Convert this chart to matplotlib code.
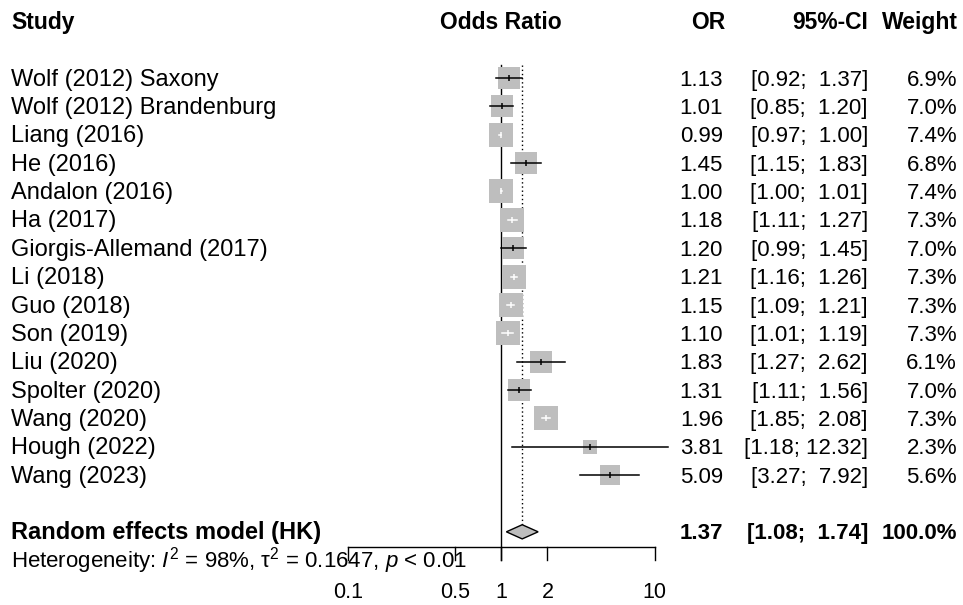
import numpy as np
import matplotlib
matplotlib.use("Agg")
import matplotlib.pyplot as plt
from matplotlib import transforms

plt.rcParams["font.family"] = ["Liberation Sans", "DejaVu Sans"]
plt.rcParams["mathtext.fontset"] = "custom"
plt.rcParams["mathtext.rm"] = "Liberation Sans"
plt.rcParams["mathtext.it"] = "Liberation Sans:italic"

# data
studies = ["Wolf (2012) Saxony", "Wolf (2012) Brandenburg", "Liang (2016)", "He (2016)",
           "Andalon (2016)", "Ha (2017)", "Giorgis-Allemand (2017)", "Li (2018)", "Guo (2018)",
           "Son (2019)", "Liu (2020)", "Spolter (2020)", "Wang (2020)", "Hough (2022)", "Wang (2023)"]
odds = [1.13, 1.01, 0.99, 1.45, 1.00, 1.18, 1.20, 1.21, 1.15, 1.10, 1.83, 1.31, 1.96, 3.81, 5.09]
lower = [0.92, 0.85, 0.97, 1.15, 1.00, 1.11, 0.99, 1.16, 1.09, 1.01, 1.27, 1.11, 1.85, 1.18, 3.27]
upper = [1.37, 1.20, 1.00, 1.83, 1.01, 1.27, 1.45, 1.26, 1.21, 1.19, 2.62, 1.56, 2.08, 12.32, 7.92]
weights = [6.9, 7.0, 7.4, 6.8, 7.4, 7.3, 7.0, 7.3, 7.3, 7.3, 6.1, 7.0, 7.3, 2.3, 5.6]
pooled = (1.37, 1.08, 1.74)
ticks = [0.1, 0.5, 1, 2, 10]
tick_labels = ["0.1", "0.5", "1", "2", "10"]

FS_LAB = 17     # study names
FS_HEAD = 16.5  # column headers
FS_NUM = 16     # numeric columns
FS_TICK = 15.5
gray = "#bebebe"

fig = plt.figure(figsize=(9.63, 6.05), dpi=100)
ax = fig.add_axes([348 / 963, 0, (654.5 - 348) / 963, 1])
ax.set_xscale("log")
ax.set_xlim(0.1, 10)
ax.set_ylim(18.58, -2.75)
ax.axis("off")

rows = np.arange(len(studies))
re_row = 16
het_row = 17
head_row = -2
base = 0.27  # baseline offset so text sits centred on the row

# reference lines
ax.plot([1, 1], [-0.46, 17.0], color="black", lw=1.0, clip_on=False)
ax.plot([pooled[0], pooled[0]], [-0.46, re_row - 0.25], color="black", lw=1.0,
        ls=(0, (1, 2)), clip_on=False)

# study squares + CI
px_per_dec = 306.5 / 2
for i in range(len(studies)):
    side = 8.6 * np.sqrt(weights[i])
    half_dec = side / 2 / px_per_dec
    inside = (np.log10(lower[i]) >= np.log10(odds[i]) - half_dec and
              np.log10(upper[i]) <= np.log10(odds[i]) + half_dec)
    col = "white" if inside else "black"
    ax.scatter([odds[i]], [rows[i]], s=(side * 0.72) ** 2, marker="s", color=gray,
               linewidths=0, zorder=2)
    ax.plot([lower[i], upper[i]], [rows[i], rows[i]], color=col, lw=1.1, zorder=3,
            clip_on=False)
    ax.plot([odds[i]], [rows[i]], marker="|", ms=5, mew=1.1, color=col, zorder=3)

# pooled diamond
ax.fill([pooled[1], pooled[0], pooled[2], pooled[0]],
        [re_row, re_row - 0.25, re_row, re_row + 0.25],
        facecolor=gray, edgecolor="black", lw=1.0, zorder=3)

# x axis
ax.plot([0.1, 10], [16.52, 16.52], color="black", lw=1.0, clip_on=False)
for t, lab in zip(ticks, tick_labels):
    ax.plot([t, t], [16.52, 17.0], color="black", lw=1.0, clip_on=False)
    ax.text(t, 18.35, lab, ha="center", va="baseline", fontsize=FS_TICK)

# text columns
tr = transforms.blended_transform_factory(fig.transFigure, ax.transData)
x_study = 11 / 963
x_or = 723 / 963
x_ci = 868 / 963
x_w = 957 / 963

ax.text(x_study, head_row + base, "Study", transform=tr, fontsize=FS_HEAD, weight="bold")
ax.text(1, head_row + base, "Odds Ratio", ha="center", fontsize=FS_HEAD, weight="bold")
ax.text(725 / 963, head_row + base, "OR", transform=tr, ha="right", fontsize=FS_HEAD, weight="bold")
ax.text(x_ci, head_row + base, "95%-CI", transform=tr, ha="right", fontsize=FS_HEAD, weight="bold")
ax.text(958 / 963, head_row + base, "Weight", transform=tr, ha="right", fontsize=FS_HEAD,
        weight="bold")

for i in range(len(studies)):
    y = rows[i] + base
    ax.text(x_study, y, studies[i], transform=tr, fontsize=FS_LAB)
    ax.text(x_or, y, f"{odds[i]:.2f}", transform=tr, ha="right", fontsize=FS_NUM)
    ci = f"[{lower[i]:.2f}; {upper[i]:5.2f}]"
    ax.text(x_ci, y, ci, transform=tr, ha="right", fontsize=FS_NUM)
    ax.text(x_w, y, f"{weights[i]:.1f}%", transform=tr, ha="right", fontsize=FS_NUM)

y = re_row + base
ax.text(x_study, y, "Random effects model (HK)", transform=tr, fontsize=FS_LAB, weight="bold")
ax.text(x_or, y, f"{pooled[0]:.2f}", transform=tr, ha="right", fontsize=FS_NUM, weight="bold")
ax.text(x_ci, y, f"[{pooled[1]:.2f}; {pooled[2]:5.2f}]", transform=tr, ha="right",
        fontsize=FS_NUM, weight="bold")
ax.text(x_w, y, "100.0%", transform=tr, ha="right", fontsize=FS_NUM, weight="bold")

ax.text(x_study, het_row + base,
        "Heterogeneity: $I^2$ = 98%, \u03c4$^2$ = 0.1647, $p$ < 0.01",
        transform=tr, fontsize=16)

fig.savefig("out.png", dpi=100, facecolor="white")
